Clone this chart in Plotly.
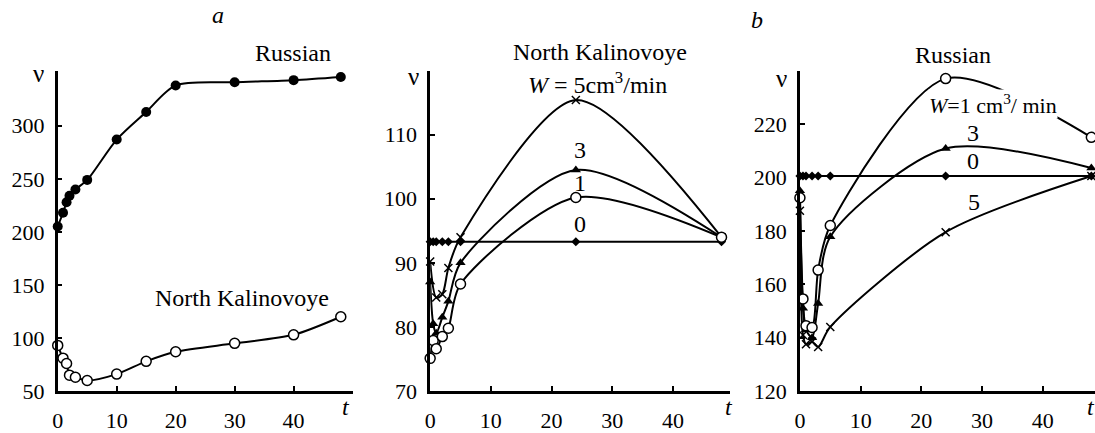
import plotly.graph_objects as go

# ---------------- data ----------------
# panel a (left): v vs t for two oils
t_a = [0, 0.9, 1.5, 2, 3, 5, 10, 15, 20, 30, 40, 48]
russian_a = [205, 218, 228, 234, 240, 249, 287, 313, 338, 341, 343, 346]
north_kal_a = [93, 81, 76, 65, 63, 60, 66, 78, 87, 95, 103, 120]

# panel a (middle): North Kalinovoye at various W
t_nk = [0, 0.5, 1, 2, 3, 5, 24, 48]
nk_w0 = [93.3, 93.3, 93.3, 93.3, 93.3, 93.3, 93.3, 93.3]
nk_w1 = [75.1, 77.9, 76.6, 78.5, 79.8, 86.7, 100.2, 94.0]
nk_w3 = [87.0, 80.5, 79.0, 81.5, 84.0, 90.0, 104.5, 94.0]
t_nk5 = [0, 1, 2, 3, 5, 24, 48]
nk_w5 = [90.2, 84.6, 85.1, 89.2, 94.0, 115.4, 94.0]

# panel b (right): Russian at various W
t_ru = [0, 0.5, 1, 2, 3, 5, 24, 48]
ru_w0 = [200.5, 200.5, 200.5, 200.5, 200.5, 200.5, 200.5, 200.5]
ru_w1 = [192.4, 154.5, 144.5, 143.8, 165.3, 182.0, 237.0, 215.0]
ru_w3 = [195.0, 151.0, 143.0, 140.0, 152.8, 177.8, 210.8, 203.5]
ru_w5 = [187.5, 141.0, 137.5, 138.5, 136.5, 144.0, 179.5, 200.5]

ticks_a_y = [50, 100, 150, 200, 250, 300]
ticks_nk_y = [70, 80, 90, 100, 110]
ticks_ru_y = [120, 140, 160, 180, 200, 220]
ticks_x = [0, 10, 20, 30, 40]

# ---------------- layout helpers ----------------
W, H = 1095, 433
FONT = "Liberation Serif"


def px(x):
    return x / W


def py(y):
    return 1 - y / H


fig = go.Figure()

line = dict(color="black", width=2, shape="spline", smoothing=0.8)


def add(x, y, axis, marker):
    fig.add_trace(go.Scatter(
        x=x, y=y, mode="lines+markers", xaxis="x" + axis, yaxis="y" + axis,
        line=line, marker=marker, showlegend=False, cliponaxis=False))


filled = dict(symbol="circle", size=10, color="black")
hollow = dict(symbol="circle", size=10, color="white", line=dict(color="black", width=1.5))
tri = dict(symbol="triangle-up", size=9, color="black")
dia = dict(symbol="diamond", size=7, color="black")
cross = dict(symbol="x-thin", size=8, color="black", line=dict(color="black", width=1.5))

add(t_a, russian_a, "", filled)
add(t_a, north_kal_a, "", hollow)

add(t_nk, nk_w0, "2", dia)
add(t_nk5, nk_w5, "2", cross)
add(t_nk, nk_w3, "2", tri)
add(t_nk, nk_w1, "2", hollow)

add(t_ru, ru_w0, "3", dia)
add(t_ru, ru_w5, "3", cross)
add(t_ru, ru_w3, "3", tri)
add(t_ru, ru_w1, "3", hollow)

ydom = [py(410), py(74)]
TICKSIZE = 22


def xax(dom, rng, anchor):
    return dict(domain=dom, range=rng, anchor=anchor, tickvals=ticks_x,
                showline=True, linecolor="black", linewidth=2.5, ticks="inside",
                ticklen=5, tickwidth=2, tickcolor="black", showgrid=False,
                zeroline=False, ticklabelstandoff=8,
                tickfont=dict(family=FONT, size=TICKSIZE, color="black"))


def yax(dom, rng, anchor, tv):
    return dict(domain=dom, range=rng, anchor=anchor, tickvals=tv,
                showline=True, linecolor="black", linewidth=2.5, ticks="inside",
                ticklen=5, tickwidth=2, tickcolor="black", showgrid=False,
                zeroline=False, ticklabelstandoff=6,
                tickfont=dict(family=FONT, size=TICKSIZE, color="black"))


fig.update_layout(
    width=W, height=H, margin=dict(l=0, r=0, t=0, b=0),
    paper_bgcolor="white", plot_bgcolor="white",
    font=dict(family=FONT, color="black"),
    xaxis=xax([px(52), px(348.5)], [0, 50], "y"),
    yaxis=yax(ydom, [50, 352], "x", ticks_a_y),
    xaxis2=xax([px(426.5), px(728)], [0, 49.4], "y2"),
    yaxis2=yax(ydom, [70, 120], "x2", ticks_nk_y),
    xaxis3=xax([px(798.3), 1.0], [0, 48.6], "y3"),
    yaxis3=yax(ydom, [120, 240], "x3", ticks_ru_y),
)


def label(x, y, text, size=24, bg=None):
    d = dict(x=px(x), y=py(y), xref="paper", yref="paper", text=text,
             showarrow=False, xanchor="center", yanchor="middle",
             font=dict(family=FONT, size=size, color="black"))
    if bg:
        d["bgcolor"] = bg
        d["borderpad"] = 0
    fig.add_annotation(**d)


label(213, 16, "<i>a</i>")
label(755, 21, "<i>b</i>")

label(33, 77, "ν", 25)
label(410, 80, "ν", 25)
label(780, 82, "ν", 25)
label(342, 427, "<i>t</i>")
label(727, 427, "<i>t</i>")
label(1091, 427, "<i>t</i>")

label(289, 56, "Russian")
label(237, 312, "North Kalinovoye")

label(597, 55, "North Kalinovoye")
label(595, 87, "<i>W</i> = 5cm<sup>3</sup>/min")
label(577, 157, "3")
label(577, 192, "1")
label(577, 235, "0")

label(952, 58, "Russian")
label(992, 109, "<i>W</i>=1 cm<sup>3</sup>/ min", size=22, bg="white")
label(972, 139, "3")
label(972, 169, "0")
label(973, 212, "5")

fig.write_html("out.html")
